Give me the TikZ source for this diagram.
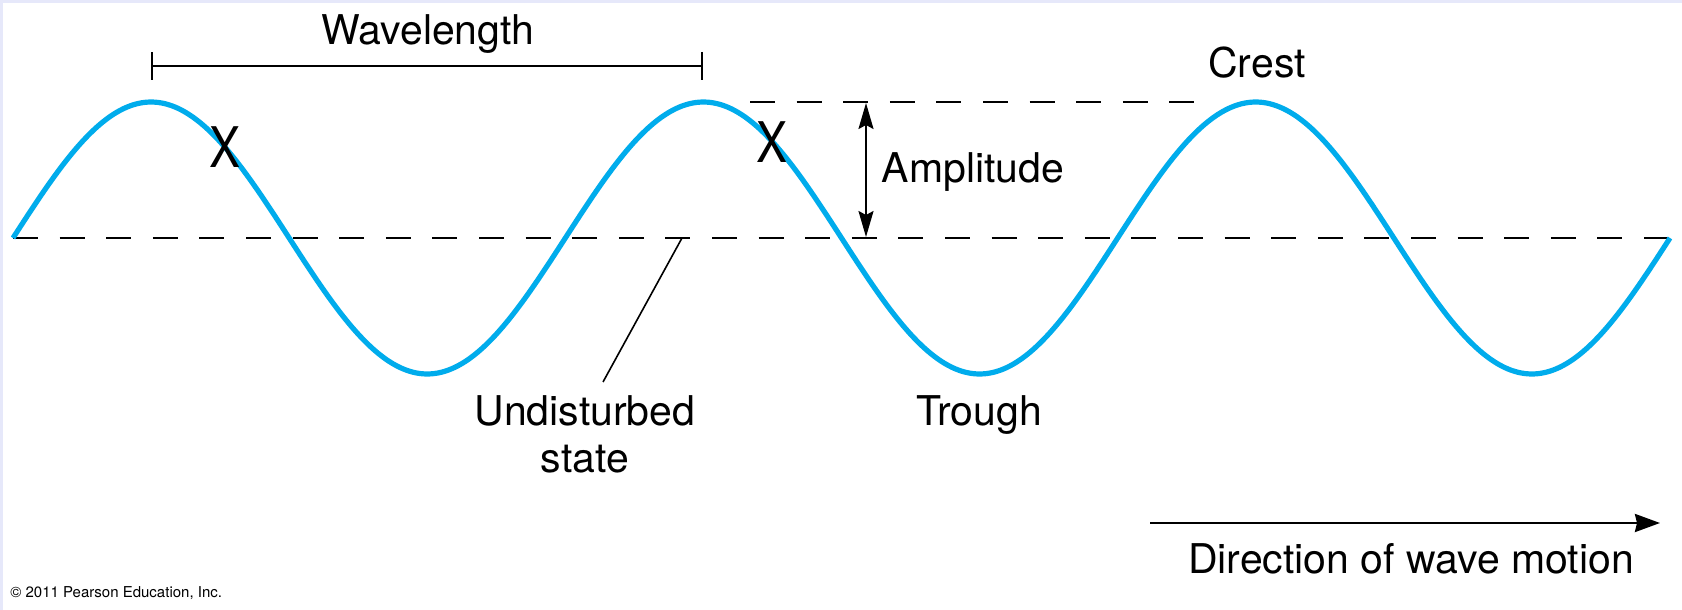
\documentclass[tikz,border=0pt]{standalone}
\usepackage{fontspec}
\setmainfont{TeX Gyre Heros}
\usetikzlibrary{arrows.meta}
\definecolor{wavecol}{RGB}{0,172,236}
\definecolor{lav}{RGB}{230,232,250}
\begin{document}
\begin{tikzpicture}[x=0.5pt,y=-0.5pt,
  lbl/.style={font=\fontsize{20.5}{23.5}\selectfont, inner sep=0pt, anchor=base},
  xmark/.style={font=\fontsize{28}{30}\selectfont, inner sep=0pt},
  dashline/.style={line width=1.4pt, dash pattern=on 12.5pt off 10.8pt},
  blk/.style={line width=1pt}]
\fill[lav] (0,0) rectangle (1682,610);
\fill[white] (3,3) rectangle (1682,610);
\useasboundingbox (0,0) rectangle (1682,610);

% undisturbed state and crest level
\coordinate (m0) at (13,238);
\coordinate (m1) at (1670,238);
\draw[dashline] (m0) -- (m1);
\coordinate (ct0) at (750,102);
\coordinate (ct1) at (1196,102);
\draw[dashline] (ct0) -- (ct1);

% wave
\draw[wavecol, line width=2.6pt] plot[domain=0:1080, samples=241, smooth]
  ({13+\x*1.534259},{238-136*sin(\x)});

% wavelength bar
\coordinate (w0) at (151,66);
\coordinate (w1) at (703,66);
\draw[line width=1.2pt, {Bar[width=14pt]}-{Bar[width=14pt]}] (w0) -- (w1);
\node[lbl] (wl) at (428,45) {Wavelength};

% amplitude
\coordinate (a0) at (866,103);
\coordinate (a1) at (866,237);
\draw[blk, {Stealth[length=13pt,width=7.5pt,inset=2pt]}-{Stealth[length=13pt,width=7.5pt,inset=2pt]}] (a0) -- (a1);
\node[lbl] (amp) at (973,183) {Amplitude};

% labels
\node[lbl] (crest) at (1257,78) {Crest};
\node[lbl] (trough) at (979,425) {Trough};
\node[lbl, align=center] (und) at (585,472) {Undisturbed\\state};
\coordinate (u0) at (682,238);
\coordinate (u1) at (603,382);
\draw[line width=0.8pt] (u0) -- (u1);

% X marks
\node[xmark] (x1) at (225,147) {\scalebox{0.83}[1]{X}};
\node[xmark] (x2) at (772,142) {\scalebox{0.83}[1]{X}};

% direction of motion
\coordinate (d0) at (1150,523);
\coordinate (d1) at (1660,523);
\draw[line width=1.25pt, -{Stealth[length=12.5pt,width=9pt,inset=1pt]}] (d0) -- (d1);
\node[lbl] (dir) at (1411,573) {Direction of wave motion};

% copyright
\node[font=\fontsize{7.5}{9}\selectfont, inner sep=0pt, anchor=base west] (copy) at (10,597) {© 2011 Pearson Education, Inc.};
\end{tikzpicture}
\end{document}
